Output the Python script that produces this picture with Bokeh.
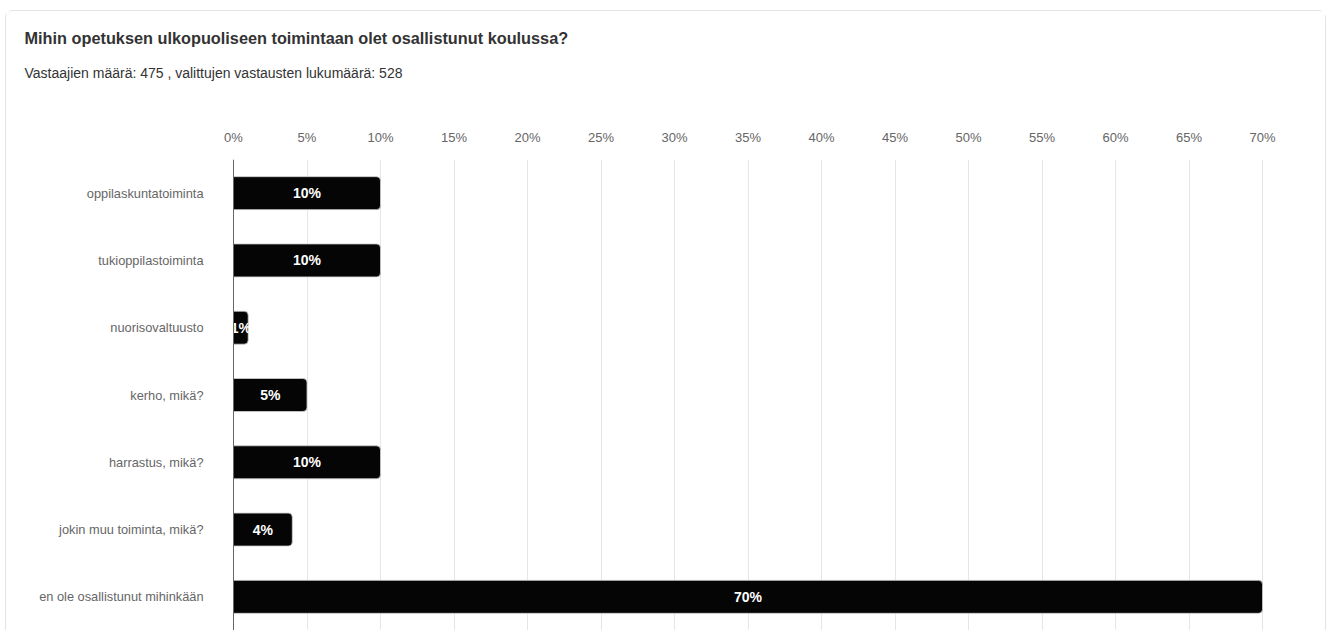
from bokeh.plotting import figure
from bokeh.layouts import column
from bokeh.models import FixedTicker, PrintfTickFormatter, Range1d, ColumnDataSource, Span
from bokeh.core.properties import value
from bokeh.embed import file_html
from bokeh.resources import INLINE

categories = ["oppilaskuntatoiminta", "tukioppilastoiminta", "nuorisovaltuusto",
              "kerho, mikä?", "harrastus, mikä?", "jokin muu toiminta, mikä?",
              "en ole osallistunut mihinkään"]
percent = [10, 10, 1, 5, 10, 4, 70]
x_ticks = list(range(0, 75, 5))
title_text = "Mihin opetuksen ulkopuoliseen toimintaan olet osallistunut koulussa?"
subtitle_text = "Vastaajien määrä: 475 , valittujen vastausten lukumäärä: 528"

FONT = "Liberation Sans"
CW = 1319          # inner card width (px)
HH = 100           # header height (px)
CH = 519           # chart height (px)
PLOT_LEFT = 227    # px from card edge to the 0 % line
PLOT_RIGHT = 63    # px from the 70 % line to the card edge
X_MAX = 70
px_per_unit = (CW - PLOT_LEFT - PLOT_RIGHT) / X_MAX

# ---- header (title + subtitle) ----
hdr = figure(width=CW, height=HH, output_backend="svg", toolbar_location=None,
             x_axis_type=None, y_axis_type=None,
             x_range=Range1d(0, CW), y_range=Range1d(HH, 0),
             min_border=0)
hdr.outline_line_color = None
hdr.grid.visible = False
hdr.text(x=[18], y=[26], text=[title_text], text_baseline="middle", text_align="left",
         text_color="#333333", text_font_style="bold", text_font_size="16.3px",
         text_font=value(FONT))
hdr.text(x=[18], y=[61], text=[subtitle_text], text_baseline="middle", text_align="left",
         text_color="#333333", text_font_size="14px", text_font=value(FONT))

# ---- chart ----
idx = list(range(len(categories)))
src = ColumnDataSource(dict(
    y=idx, right=percent, mid=[v / 2 for v in percent],
    label=[f"{v}%" for v in percent], cat=categories, zero=[0] * len(categories),
))

p = figure(width=CW, height=CH, output_backend="svg", toolbar_location=None,
           x_axis_location="above", y_axis_location=None,
           x_range=Range1d(-PLOT_LEFT / px_per_unit, X_MAX + PLOT_RIGHT / px_per_unit),
           y_range=Range1d(len(categories) - 0.5, -0.5),
           min_border_left=0, min_border_right=0, min_border_top=48, min_border_bottom=0)
p.outline_line_color = None

p.xgrid.ticker = FixedTicker(ticks=x_ticks)
p.xgrid.grid_line_color = "#e6e6e6"
p.ygrid.grid_line_color = None

p.hbar(y="y", right="right", left=0, height=0.49, source=src,
       fill_color="#050505", line_color="#cfcfcf", line_width=0.8,
       border_radius=(0, 4, 4, 0))
p.text(x="mid", y="y", text="label", source=src, text_align="center", text_baseline="middle",
       text_color="white", text_font_style="bold", text_font_size="14px", text_font=value(FONT))
# category labels (left of the 0 line)
p.text(x="zero", y="y", text="cat", source=src, x_offset=-30, text_align="right",
       text_baseline="middle", text_color="#666666", text_font_size="12.8px",
       text_font=value(FONT))
p.add_layout(Span(location=0, dimension="height", line_color="#666666", line_width=1))

xa = p.xaxis[0]
xa.ticker = FixedTicker(ticks=x_ticks)
xa.formatter = PrintfTickFormatter(format="%d%%")
xa.axis_line_color = None
xa.major_tick_line_color = None
xa.minor_tick_line_color = None
xa.major_tick_out = 0
xa.major_label_standoff = 15
xa.major_label_text_color = "#666666"
xa.major_label_text_font = FONT
xa.major_label_text_font_size = "13px"

card = column(hdr, p, spacing=0, margin=(10, 0, 0, 5),
              styles={"border": "1px solid #e3e3e3", "border-bottom": "none",
                      "border-radius": "8px 8px 0 0", "background": "white"})

open("out.html", "w").write(file_html(card, INLINE))
